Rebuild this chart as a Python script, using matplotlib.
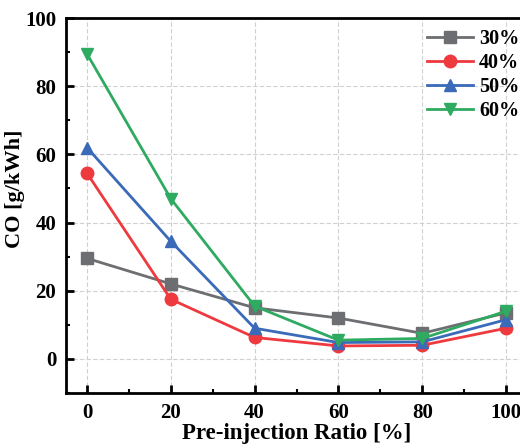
import matplotlib.pyplot as plt
from matplotlib.ticker import MultipleLocator

# pre-injection ratio [%]
ratio = [0, 20, 40, 60, 80, 100]

co_30 = [29.5, 22.0, 15.0, 12.0, 7.5, 13.5]
co_40 = [54.5, 17.5, 6.3, 3.8, 4.0, 9.0]
co_50 = [62.0, 34.5, 9.0, 4.8, 5.0, 11.5]
co_60 = [89.5, 47.0, 15.5, 5.5, 6.0, 14.0]

series_labels = ['30%', '40%', '50%', '60%']

plt.rcParams['font.family'] = ['Liberation Serif', 'DejaVu Serif']
plt.rcParams['font.weight'] = 'bold'

fig = plt.figure(figsize=(5.2, 4.48), dpi=100)
ax = fig.add_axes([66 / 520, 1 - 393 / 448, 461 / 520, 375 / 448])

styles = [('#6d6e71', 's'), ('#ee3a3f', 'o'), ('#3a6ab8', '^'), ('#2eaa61', 'v')]
for vals, lab, (c, m) in zip([co_30, co_40, co_50, co_60], series_labels, styles):
    ax.plot(ratio, vals, color=c, marker=m, markersize=9, linewidth=2,
            label=lab, clip_on=False, zorder=3)

ax.set_xlim(-5, 105)
ax.set_ylim(-10, 100)
ax.xaxis.set_major_locator(MultipleLocator(20))
ax.xaxis.set_minor_locator(MultipleLocator(10))
ax.yaxis.set_major_locator(MultipleLocator(20))
ax.yaxis.set_minor_locator(MultipleLocator(10))
ax.tick_params(which='major', direction='in', length=6, width=2, labelsize=15, pad=7)
ax.tick_params(which='minor', direction='in', length=3, width=1.5)
ax.tick_params(top=False, right=False)
for s in ax.spines.values():
    s.set_linewidth(2)

ax.grid(True, which='major', linestyle=(0, (4, 2)), color='#d0d0d0', linewidth=0.8)
ax.set_axisbelow(True)

ax.set_xlabel('Pre-injection Ratio [%]', fontsize=16.5, fontweight='bold', labelpad=0)
ax.set_ylabel('CO [g/kWh]', fontsize=16, fontweight='bold')
ax.yaxis.set_label_coords(-0.09, 0.545)

ax.legend(loc='upper right', bbox_to_anchor=(0.983, 0.97), frameon=False,
          fontsize=14.5, handlelength=2.3, handletextpad=0.3, labelspacing=0.2,
          borderaxespad=0, borderpad=0)

fig.savefig('out.png', dpi=100)
